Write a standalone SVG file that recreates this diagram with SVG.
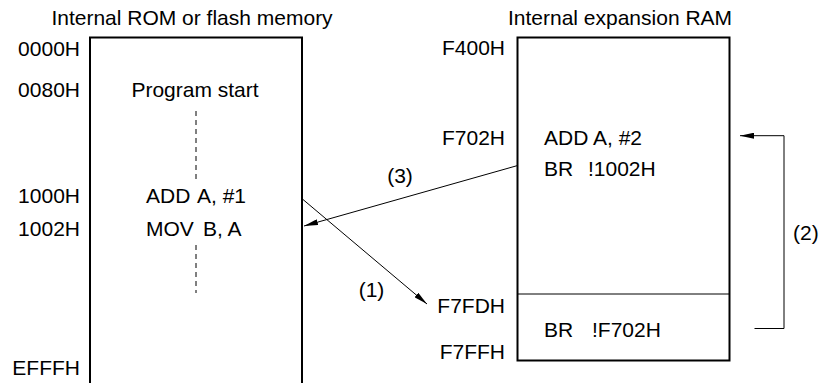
<svg xmlns="http://www.w3.org/2000/svg" width="820" height="383" viewBox="0 0 820 383">
<defs>
<style>
text{font-family:"Liberation Sans",Arial,sans-serif;font-size:21px;fill:#000}
.r{text-anchor:end}
.m{text-anchor:middle}
.box{fill:none;stroke:#000;stroke-width:2}
.ln{fill:none;stroke:#000;stroke-width:1}
.dash{stroke:#000;stroke-width:1;stroke-dasharray:5,4}
</style>
<marker id="ah" viewBox="0 0 14 6" refX="14" refY="3" markerWidth="14" markerHeight="6" markerUnits="userSpaceOnUse" orient="auto">
<path d="M0,0 L14,3 L0,6 z" fill="#000"/>
</marker>
</defs>
<rect width="820" height="383" fill="#fff"/>
<g id="rom">
<text class="m" x="192" y="25">Internal ROM or flash memory</text>
<path class="box" d="M90,390 V37.5 H302 V390"/>
<text class="r" x="80" y="56">0000H</text>
<text class="r" x="80" y="97">0080H</text>
<text class="r" x="80" y="203">1000H</text>
<text class="r" x="80" y="236">1002H</text>
<text class="r" x="80" y="375">EFFFH</text>
<text class="m" x="195" y="97">Program start</text>
<line class="dash" x1="196" y1="111" x2="196" y2="180"/>
<text y="203"><tspan x="146">ADD</tspan><tspan x="197">A, #1</tspan></text>
<text y="236"><tspan x="146">MOV</tspan><tspan x="203">B, A</tspan></text>
<line class="dash" x1="196" y1="245" x2="196" y2="293"/>
</g>
<g id="ram">
<text class="m" x="620" y="25">Internal expansion RAM</text>
<rect class="box" x="517.5" y="37.5" width="212" height="323"/>
<line class="ln" x1="517.5" y1="294" x2="729.5" y2="294"/>
<text class="r" x="505" y="55">F400H</text>
<text class="r" x="505" y="145">F702H</text>
<text class="r" x="505" y="313">F7FDH</text>
<text class="r" x="505" y="359">F7FFH</text>
<text x="544" y="145">ADD A, #2</text>
<text y="176"><tspan x="544">BR</tspan><tspan x="588">!1002H</tspan></text>
<text y="337"><tspan x="544">BR</tspan><tspan x="592">!F702H</tspan></text>
</g>
<g id="connectors">
<line class="ln" x1="303" y1="199.5" x2="427" y2="304" marker-end="url(#ah)"/>
<line class="ln" x1="517" y1="165.7" x2="304" y2="226" marker-end="url(#ah)"/>
<polyline class="ln" stroke="#333" points="754.5,328.5 784,328.5 784,135.7 740,135.7" marker-end="url(#ah)"/>
<text class="m" x="371.5" y="297">(1)</text>
<text class="m" x="400" y="183">(3)</text>
<text x="793" y="240">(2)</text>
</g>
</svg>
